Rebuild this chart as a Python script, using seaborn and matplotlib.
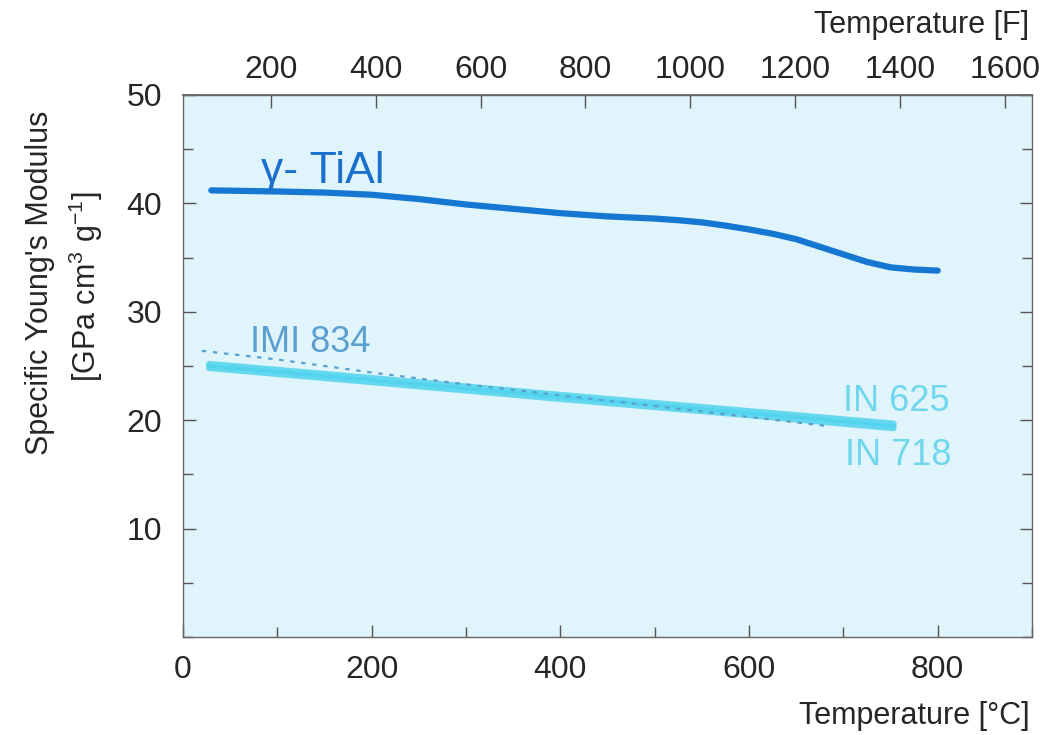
import numpy as np
import pandas as pd
import matplotlib
matplotlib.use("Agg")
import matplotlib.pyplot as plt
import seaborn as sns
from matplotlib.ticker import MultipleLocator, FixedLocator

# gamma-TiAl (deg C -> specific modulus)
tial_temp = [30, 100, 150, 200, 250, 300, 350, 400, 450, 500, 525, 550, 575, 600,
             625, 650, 675, 700, 725, 750, 775, 800]
tial_mod = [41.2, 41.1, 41.0, 40.8, 40.4, 39.9, 39.5, 39.1, 38.8, 38.6, 38.45, 38.25,
            37.95, 37.6, 37.2, 36.7, 36.0, 35.3, 34.6, 34.1, 33.9, 33.8]

# IMI 834 (dashed)
imi_temp = [20, 100, 200, 300, 400, 500, 600, 680]
imi_mod = [26.4, 25.6, 24.4, 23.3, 22.3, 21.3, 20.3, 19.5]

# IN 625 / IN 718 band
in625_temp = [28, 200, 400, 600, 753]
in625_mod = [25.15, 23.85, 22.3, 20.8, 19.65]
in718_temp = [28, 200, 400, 600, 753]
in718_mod = [24.85, 23.55, 22.0, 20.5, 19.3]

f_ticks = [200, 400, 600, 800, 1000, 1200, 1400, 1600]


def main():
    sns.set_theme(style="ticks")
    plt.rcParams['font.family'] = ['Liberation Sans', 'DejaVu Sans']
    plt.rcParams['mathtext.fontset'] = 'custom'
    plt.rcParams['mathtext.rm'] = 'Liberation Sans'

    fig = plt.figure(figsize=(10.4, 7.35), dpi=100)
    fig.patch.set_facecolor("white")
    ax = fig.add_axes([183 / 1040, 98 / 735, 849 / 1040, 542 / 735])
    ax.set_facecolor("#dff5fb")

    band = "#4fd3ee"
    sns.lineplot(x=in625_temp, y=in625_mod, ax=ax, color=band, lw=5, alpha=0.85)
    sns.lineplot(x=in718_temp, y=in718_mod, ax=ax, color=band, lw=5, alpha=0.85)
    sns.lineplot(x=imi_temp, y=imi_mod, ax=ax, color="#5b9fcf", lw=1.6,
                 linestyle=(0, (2, 3)))
    sns.lineplot(x=tial_temp, y=tial_mod, ax=ax, color="#1677d2", lw=4.5)

    ax.text(83, 41.9, "\u03b3- TiAl", color="#1a6fcc", fontsize=32, va="baseline")
    ax.text(71, 27.2, "IMI 834", color="#5a9fd0", fontsize=26, va="center")
    ax.text(700, 21.7, "IN 625", color="#6fd6ee", fontsize=26, va="center")
    ax.text(702, 16.7, "IN 718", color="#6fd6ee", fontsize=26, va="center")

    ax.set_xlim(0, 900)
    ax.set_ylim(0, 50)
    ax.xaxis.set_major_locator(FixedLocator([0, 200, 400, 600, 800]))
    ax.xaxis.set_minor_locator(MultipleLocator(100))
    ax.yaxis.set_major_locator(FixedLocator([10, 20, 30, 40, 50]))
    ax.yaxis.set_minor_locator(MultipleLocator(5))
    ax.tick_params(axis="both", which="both", direction="in", right=True,
                   color="#555555", width=1)
    ax.tick_params(axis="both", which="major", length=9, labelsize=23, pad=13)
    ax.tick_params(axis="both", which="minor", length=7)
    ax.tick_params(axis="y", which="major", pad=15)
    for s in ax.spines.values():
        s.set_color("#666666")
        s.set_linewidth(1.0)

    secax = ax.secondary_xaxis("top", functions=(lambda c: c * 9 / 5 + 32,
                                                 lambda f: (f - 32) * 5 / 9))
    secax.xaxis.set_major_locator(FixedLocator(f_ticks))
    secax.tick_params(direction="in", length=9, labelsize=23, pad=7,
                      color="#555555", width=1)
    secax.spines["top"].set_color("#666666")

    fig.text(0.99, 0.026, "Temperature [\u00b0C]", ha="right", va="center", fontsize=22)
    fig.text(0.99, 0.966, "Temperature [F]", ha="right", va="center", fontsize=22)
    fig.text(0.038, 0.615, "Specific Young's Modulus", rotation=90, ha="center",
             va="center", fontsize=22)
    fig.text(0.083, 0.61, "[GPa cm$^3$ g$^{-1}$]", rotation=90, ha="center",
             va="center", fontsize=22)

    fig.savefig("out.png", dpi=100, facecolor="white")
    plt.close(fig)


if __name__ == "__main__":
    main()
